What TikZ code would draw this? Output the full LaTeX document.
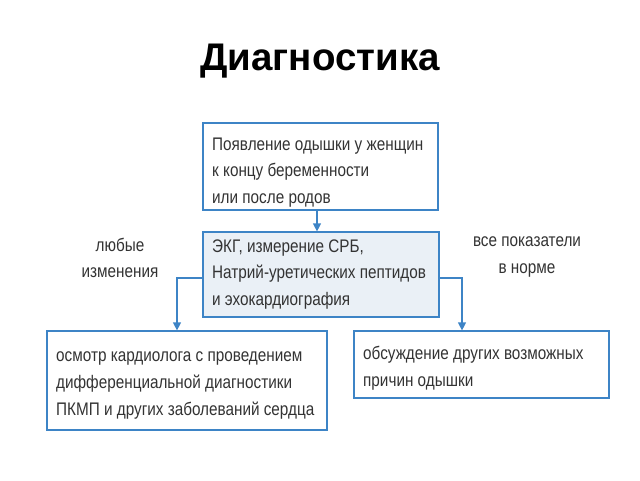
\documentclass[tikz,border=0pt]{standalone}
\usepackage{fontspec}
\setmainfont{Liberation Sans}
\newfontfamily\narrowfont[FakeStretch=0.84]{Liberation Sans}
\usetikzlibrary{arrows.meta}
\definecolor{boxblue}{HTML}{3D84C6}
\definecolor{txtgray}{HTML}{333333}
\definecolor{fillblue}{HTML}{EAF0F6}
\tikzset{
  box/.style={draw=boxblue, line width=1.2pt, inner sep=0pt},
  txt/.style={align=left, inner sep=0pt, anchor=west,
    font=\narrowfont\fontsize{18.2}{26.8}\selectfont, text=txtgray},
  lbl/.style={align=center, font=\narrowfont\fontsize{18.2}{26.8}\selectfont, text=txtgray},
  conn/.style={draw=boxblue, line width=1.2pt, -{Triangle[length=8pt,width=8pt]}}
}
\begin{document}
\begin{tikzpicture}[x=1pt,y=-1pt]
\useasboundingbox (0,0) rectangle (640,480);
\node[font=\bfseries\fontsize{38.5}{40}\selectfont, text=black] (title) at (320,61) {Диагностика};
\node[box, minimum width=235pt, minimum height=87pt] (b1) at (320.5,166.5) {};
\node[box, fill=fillblue, minimum width=236pt, minimum height=85pt] (b2) at (321,274.5) {};
\node[box, minimum width=280pt, minimum height=99pt] (b3) at (187,380.5) {};
\node[box, minimum width=255pt, minimum height=67pt] (b4) at (481.5,364.5) {};
\node[txt] (t1) at (212,172.5)
  {Появление одышки у женщин\\к концу беременности\\или после родов};
\node[txt] (t2) at (212,274.5)
  {ЭКГ, измерение СРБ,\\Натрий-уретических пептидов\\и эхокардиография};
\node[txt] (t3) at (56,385.5)
  {осмотр кардиолога с проведением\\дифференциальной диагностики\\ПКМП и других заболеваний сердца};
\node[txt] (t4) at (363,368.5)
  {обсуждение других возможных\\причин одышки};
\node[lbl] (l1) at (120,258) {любые\\изменения};
\node[lbl] (l2) at (527,257) {все показатели\\в норме};
\draw[conn] (b1.south -| 317,0) -- (b2.north -| 317,0);
\coordinate (cl) at (177,278);
\coordinate (cr) at (462,278);
\draw[conn] (b2.west |- cl) -- (cl) -- (cl |- b3.north);
\draw[conn] (b2.east |- cr) -- (cr) -- (cr |- b4.north);
\end{tikzpicture}
\end{document}
